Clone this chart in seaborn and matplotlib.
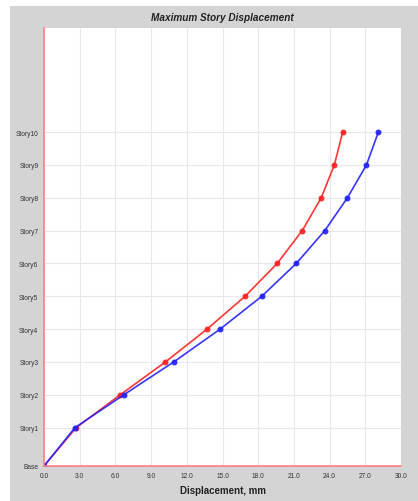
import seaborn as sns
import matplotlib.pyplot as plt
import pandas as pd

sns.set_style("white")
plt.rcParams["font.family"] = ["Liberation Sans", "DejaVu Sans"]

# story levels (first story taller than the rest)
stories = ["Base", "Story1", "Story2", "Story3", "Story4", "Story5",
           "Story6", "Story7", "Story8", "Story9", "Story10"]
elev = [0, 3.5, 6.5, 9.5, 12.5, 15.5, 18.5, 21.5, 24.5, 27.5, 30.5]

# max displacement per story, mm
disp_red = [0.0, 2.7, 6.4, 10.2, 13.7, 16.9, 19.6, 21.7, 23.3, 24.4, 25.1]
disp_blue = [0.0, 2.6, 6.7, 10.9, 14.8, 18.3, 21.2, 23.6, 25.5, 27.1, 28.1]

df = pd.DataFrame({"elev": elev, "red": disp_red, "blue": disp_blue})

fig = plt.figure(figsize=(4.18, 5.02), dpi=100, facecolor="white")
# gray panel behind the plot
bg = fig.add_axes([10 / 418, 0, 1 - 10 / 418, 1 - 7 / 502], zorder=-1)
bg.set_facecolor("#d4d4d4")
bg.set_xticks([])
bg.set_yticks([])
for s in bg.spines.values():
    s.set_visible(False)

ax = fig.add_axes([44 / 418, 1 - 467 / 502, 357 / 418, 438 / 502])
ax.set_facecolor("white")

sns.lineplot(data=df, x="red", y="elev", sort=False, estimator=None, ax=ax,
             color="#ff2020", lw=1.2, marker="o", markersize=3.5, mec="#ff2020", alpha=0.9)
sns.lineplot(data=df, x="blue", y="elev", sort=False, estimator=None, ax=ax,
             color="#2020ff", lw=1.2, marker="o", markersize=3.5, mec="#2020ff", alpha=0.9)

ax.set_xlim(0, 30)
ax.set_ylim(0, 40)
ax.set_xticks([i * 3 for i in range(11)])
ax.set_xticklabels([f"{i * 3:.1f}" for i in range(11)], fontsize=4.8, color="#333333")
ax.set_yticks(elev)
ax.set_yticklabels(stories, fontsize=4.8, color="#333333")
ax.tick_params(length=2, width=0.6, color="#555555", pad=2)
ax.grid(True, color="#e8e8e8", lw=0.8)

for s in ["top", "right"]:
    ax.spines[s].set_visible(False)
for s in ["left", "bottom"]:
    ax.spines[s].set_color("#ff8080")
    ax.spines[s].set_linewidth(1.2)

ax.set_xlabel("Displacement, mm", fontsize=7, fontweight="bold", color="#222222", labelpad=5)
ax.set_ylabel("")
ax.set_title("Maximum Story Displacement", fontsize=7.2, fontweight="bold",
             style="italic", color="#222222", pad=6)

plt.savefig("out.png", dpi=100, facecolor=fig.get_facecolor())
